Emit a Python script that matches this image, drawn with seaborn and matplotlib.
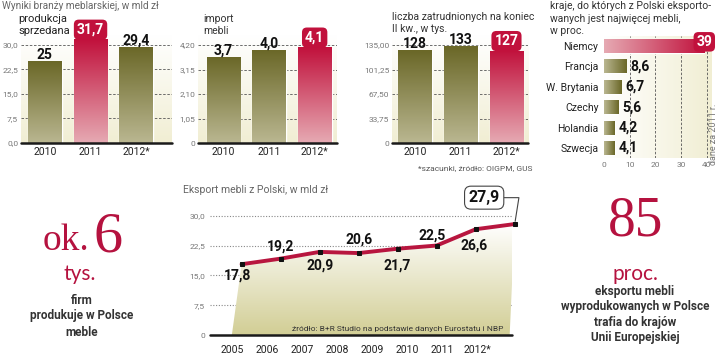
import numpy as np
import seaborn as sns
import matplotlib.pyplot as plt
from matplotlib.colors import LinearSegmentedColormap
from matplotlib.patches import Polygon
from matplotlib.ticker import FuncFormatter

# dane
lata = ['2010', '2011', '2012*']
produkcja = [25, 31.7, 29.4]
import_mebli = [3.7, 4.0, 4.1]
zatrudnieni = [128, 133, 127]

kraje = ['Niemcy', 'Francja', 'W. Brytania', 'Czechy', 'Holandia', 'Szwecja']
udzial = [39, 8.6, 6.7, 5.6, 4.2, 4.1]

lata_eksport = ['2005', '2006', '2007', '2008', '2009', '2010', '2011', '2012*']
eksport = [17.8, 19.2, 20.9, 20.6, 21.7, 22.5, 26.6, 27.9]

W, H = 720, 354
OLIWKA = ('#bab791', '#6a6727')    # jasny, ciemny
CZERWONY = ('#e6aab3', '#c1113c')
KREM = '#f1eed3'
BORDO = '#b5123f'

sns.set_theme(style='white')
plt.rcParams['font.family'] = ['Roboto', 'DejaVu Sans']
WASKI = ['Liberation Sans Narrow', 'Roboto', 'DejaVu Sans']
SZERYF = ['Liberation Serif', 'DejaVu Serif']

fig = plt.figure(figsize=(W / 100, H / 100), dpi=100)


def osie(l, t, r, b):
    return fig.add_axes([l / W, 1 - b / H, (r - l) / W, (b - t) / H])


def przecinek(fmt, zero='0'):
    return FuncFormatter(lambda v, p: zero if v == 0 else (fmt % v).replace('.', ','))


def gradient(ax, extent, c0, c1, poziomy=False, **kw):
    g = np.linspace(0, 1, 256)
    g = g.reshape(1, -1) if poziomy else g.reshape(-1, 1)
    cmap = LinearSegmentedColormap.from_list('g', [c0, c1])
    return ax.imshow(g, cmap=cmap, extent=extent, origin='lower', aspect='auto',
                     interpolation='bilinear', **kw)


def panel(rect, wartosci, wyr, ymax, ticks, tick_fmt, zero, etyk_fmt, xlim):
    ax = osie(*rect)
    kolory = [CZERWONY[1] if i == wyr else OLIWKA[1] for i in range(len(lata))]
    sns.barplot(x=lata, y=wartosci, hue=lata, palette=kolory, legend=False,
                width=0.74, ax=ax, zorder=2)
    for i, p in enumerate(list(ax.patches)):
        c = CZERWONY if i == wyr else OLIWKA
        im = gradient(ax, [p.get_x(), p.get_x() + p.get_width(), 0, p.get_height()],
                      c[0], c[1], zorder=3)
        im.set_clip_path(p)
    gradient(ax, [0, 1, 0, 1], KREM, 'white', transform=ax.transAxes, zorder=0)
    ax.set_axisbelow(True)
    ax.set_yticks(ticks)
    ax.yaxis.set_major_formatter(przecinek(tick_fmt, zero))
    ax.yaxis.grid(True, linestyle=(0, (3, 2)), color='#555', lw=0.6)
    ax.yaxis.get_gridlines()[0].set_visible(False)
    ax.tick_params(axis='y', length=0, pad=2, labelsize=6, labelcolor='#777')
    ax.tick_params(axis='x', length=0, pad=3, labelsize=7.5, labelcolor='#222')
    ax.set_xlabel('')
    ax.set_ylabel('')
    sns.despine(ax=ax, left=True, bottom=True)
    ax.axhline(0, color='#1a1a1a', lw=1.8, zorder=6, clip_on=False)
    for i, v in enumerate(wartosci):
        txt = (etyk_fmt % v).replace('.', ',')
        if i == wyr:
            ax.annotate(txt, (i, v), xytext=(0, 2), textcoords='offset points',
                        ha='center', va='bottom', color='white', fontsize=10,
                        fontweight='bold', family=WASKI, annotation_clip=False,
                        bbox=dict(boxstyle='round,pad=0.22,rounding_size=0.35',
                                  fc=CZERWONY[1], ec='none'))
        else:
            ax.annotate(txt, (i, v), xytext=(0, -0.5), textcoords='offset points',
                        ha='center', va='bottom', color='#111', fontsize=10,
                        fontweight='bold', family=WASKI, annotation_clip=False)
    ax.set_xlim(*xlim)
    ax.set_ylim(0, ymax)
    return ax


panel((21, 35, 172, 143), produkcja, 1, 33.06, [0, 7.5, 15, 22.5, 30], '%.1f', '0,0', '%g',
      (-0.52, 2.78))
panel((198, 35, 337, 143), import_mebli, 2, 4.629, [0, 1.05, 2.1, 3.15, 4.2], '%.2f', '0', '%.1f',
      (-0.56, 2.49))
panel((392, 35, 528, 143), zatrudnieni, 2, 148.78, [0, 33.75, 67.5, 101.25, 135], '%.2f', '0', '%g',
      (-0.5, 2.47))

# kraje eksportu
ax4 = osie(604, 35.8, 712, 158.2)
kolory4 = [CZERWONY[1]] + [OLIWKA[1]] * (len(kraje) - 1)
sns.barplot(x=udzial, y=kraje, hue=kraje, palette=kolory4, legend=False, orient='h',
            width=0.69, ax=ax4, zorder=2)
for i, p in enumerate(list(ax4.patches)):
    c = CZERWONY if i == 0 else OLIWKA
    im = gradient(ax4, [0, p.get_width(), p.get_y(), p.get_y() + p.get_height()],
                  c[0], c[1], poziomy=True, zorder=3)
    im.set_clip_path(p)
gradient(ax4, [0, 1, 0, 1], 'white', KREM, poziomy=True, transform=ax4.transAxes, zorder=0)
ax4.set_axisbelow(True)
ax4.set_xticks([0, 10, 20, 30, 40])
ax4.xaxis.grid(True, linestyle=(0, (3, 2)), color='#555', lw=0.6)
ax4.xaxis.get_gridlines()[0].set_visible(False)
ax4.tick_params(axis='x', length=0, pad=3, labelsize=6, labelcolor='#777')
ax4.tick_params(axis='y', length=0, pad=4, labelsize=7.5, labelcolor='#222')
ax4.set_xlabel('')
ax4.set_ylabel('')
sns.despine(ax=ax4, left=True, bottom=True)
for i, v in enumerate(udzial):
    txt = ('%g' % v).replace('.', ',')
    if i == 0:
        ax4.annotate(txt, (v, i), xytext=(0, 3), textcoords='offset points', ha='center',
                     va='center', color='white', fontsize=10, fontweight='bold', family=WASKI,
                     annotation_clip=False,
                     bbox=dict(boxstyle='round,pad=0.2,rounding_size=0.35', fc=CZERWONY[1], ec='none'))
    else:
        ax4.annotate(txt, (v, i), xytext=(3, 0), textcoords='offset points', ha='left',
                     va='center', color='#111', fontsize=10, fontweight='bold', family=WASKI)
ax4.set_xlim(0, 42)
ax4.set_ylim(len(kraje) - 0.5, -0.5)

# eksport - wykres liniowy
ax5 = osie(210, 205, 512, 335)
x = np.arange(len(eksport))
wierz = [(-0.25, 0)] + list(zip(x, eksport)) + [(6.87, 0)]
poly = Polygon(wierz, closed=True, fc='none', ec='none')
ax5.add_patch(poly)
im = gradient(ax5, [-0.3, 7, 0, 28], '#d2ce95', 'white', zorder=1)
im.set_clip_path(poly)
sns.lineplot(x=x, y=eksport, ax=ax5, color='#b8163f', lw=2.8, marker='s', markersize=3.5,
             markerfacecolor='#111', markeredgecolor='#111', zorder=4, clip_on=False)
ax5.set_yticks([0, 7.5, 15, 22.5, 30])
ax5.yaxis.set_major_formatter(przecinek('%.1f'))
ax5.yaxis.grid(True, linestyle=(0, (1, 1.5)), color='#888', lw=0.8)
ax5.yaxis.get_gridlines()[0].set_visible(False)
ax5.set_xticks(np.linspace(-0.23, 6.05, len(lata_eksport)))
ax5.set_xticklabels(lata_eksport)
ax5.tick_params(axis='y', length=0, pad=3.5, labelsize=6, labelcolor='#777')
ax5.tick_params(axis='x', length=0, pad=7, labelsize=7.5, labelcolor='#222')
ax5.set_xlabel('')
ax5.set_ylabel('')
sns.despine(ax=ax5, left=True, bottom=True)
ax5.axhline(0, color='#1a1a1a', lw=1.8, zorder=6, clip_on=False)

przesuniecia = [(-3, -8), (0, 8.5), (0, -10), (0, 9.5), (0, -12), (-3, 7.5), (-1, -11.5)]
for i, (v, off) in enumerate(zip(eksport[:-1], przesuniecia)):
    ax5.annotate(('%.1f' % v).replace('.', ','), (i, v), xytext=off, textcoords='offset points',
                 ha='center', va='center', fontsize=10, fontweight='bold', family=WASKI,
                 color='#111')
ax5.annotate(('%.1f' % eksport[-1]).replace('.', ','), (len(eksport) - 1, eksport[-1]),
             xytext=(-22, 19), textcoords='offset points', ha='center', va='center',
             fontsize=11.5, fontweight='bold', family=WASKI, color='#111', annotation_clip=False,
             bbox=dict(boxstyle='round,pad=0.25,rounding_size=0.4', fc='white', ec='#444', lw=0.8),
             arrowprops=dict(arrowstyle='-', color='#444', lw=0.8, shrinkA=0, shrinkB=2,
                             relpos=(1, 0.5), connectionstyle='angle,angleA=0,angleB=81,rad=0'))
ax5.set_xlim(-0.81, 6.93)
ax5.set_ylim(0, 32.69)

# teksty
fig.text(2 / W, 1 - 6 / H, 'Wyniki branży meblarskiej, w mld zł', va='center', fontsize=7.2, color='#666')
fig.text(18 / W, 1 - 25 / H, 'produkcja\nsprzedana', va='center', fontsize=8, color='#222', linespacing=1.25)
fig.text(203 / W, 1 - 25 / H, 'import\nmebli', va='center', fontsize=7.5, color='#333', linespacing=1.25)
fig.text(392 / W, 1 - 17.5 / H, 'liczba zatrudnionych na koniec', va='center', fontsize=7.5, color='#333')
fig.text(392 / W, 1 - 29.5 / H, 'II kw., w tys.', va='center', fontsize=7.5, color='#333')
fig.text(550 / W, 1 - 18.5 / H, 'kraje, do których z Polski eksporto-\nwanych jest najwięcej mebli,\nw proc.',
         va='center', fontsize=7.5, color='#333', linespacing=1.3)
fig.text(533 / W, 1 - 168 / H, '*szacunki, źródło: OIGPM, GUS', ha='right', va='center', fontsize=6, color='#555')
fig.text(714 / W, 1 - 134 / H, 'dane za 2011 r.', rotation=90, ha='center', va='center', fontsize=6.5, color='#777')
fig.text(183 / W, 1 - 190 / H, 'Eksport mebli z Polski, w mld zł', va='center', fontsize=7.5, color='#666')
fig.text(292 / W, 1 - 329 / H, 'źródło: B+R Studio na podstawie danych Eurostatu i NBP', va='center',
         fontsize=6, color='#333')

fig.text(43 / W, 1 - 250 / H, 'ok.', va='baseline', ha='left', fontsize=27, family=SZERYF, color=BORDO)
fig.text(93 / W, 1 - 252 / H, '6', va='baseline', ha='left', fontsize=42, family=SZERYF, color=BORDO)
fig.text(80 / W, 1 - 280 / H, 'tys.', va='baseline', ha='center', fontsize=15, family=['Lato', 'DejaVu Sans'],
         color=BORDO)
fig.text(82 / W, 1 - 316 / H, 'firm\nprodukuje w Polsce\nmeble', ha='center', va='center', fontsize=8.5,
         fontweight='bold', color='#333', linespacing=1.3)

fig.text(636 / W, 1 - 235 / H, '85', va='baseline', ha='center', fontsize=40, family=SZERYF, color=BORDO)
fig.text(635 / W, 1 - 280 / H, 'proc.', va='baseline', ha='center', fontsize=15, family=['Lato', 'DejaVu Sans'],
         color=BORDO)
fig.text(635 / W, 1 - 314.5 / H, 'eksportu mebli\nwyprodukowanych w Polsce\ntrafia do krajów\nUnii Europejskiej',
         ha='center', va='center', fontsize=8.5, fontweight='bold', color='#333', linespacing=1.22)

fig.savefig('out.png', dpi=100)
